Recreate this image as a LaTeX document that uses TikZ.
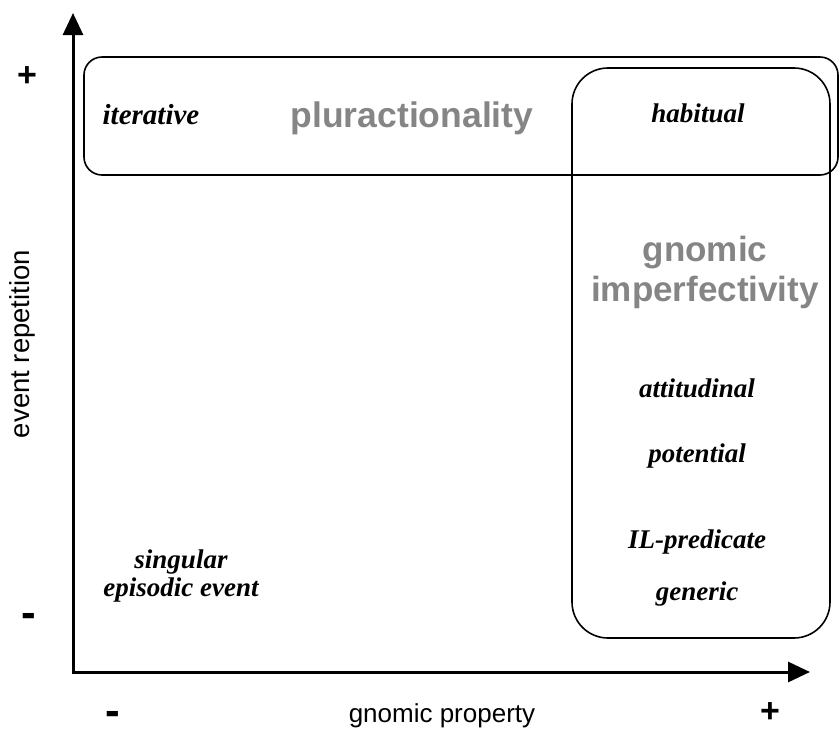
\documentclass[tikz,border=0pt]{standalone}
\usepackage{fontspec}
\setmainfont{Liberation Serif}
\setsansfont{Liberation Sans}
\usetikzlibrary{arrows.meta}
\definecolor{labgray}{HTML}{858585}
\begin{document}
\begin{tikzpicture}[x=1pt,y=-1pt,
  axisline/.style={line width=3pt,-{Triangle[length=22pt,width=20pt]}},
  regionbox/.style={draw,line width=1.6pt,inner sep=0pt},
  ital/.style={font=\fontsize{27}{30}\selectfont\itshape\bfseries, inner sep=0pt},
  big/.style={font=\fontsize{35}{40}\selectfont\sffamily\bfseries, text=labgray, inner sep=0pt, align=center},
  pm/.style={font=\fontsize{34}{34}\selectfont\sffamily\bfseries, inner sep=0pt},
  mn/.style={font=\fontsize{44}{44}\selectfont\sffamily\bfseries, inner sep=0pt, text height=19pt, text depth=-13pt},
  axlab/.style={font=\fontsize{26}{28}\selectfont\sffamily, inner sep=0pt}]
\useasboundingbox (0,0) rectangle (839,729);
% boxes
\node[regionbox, rounded corners=18pt, minimum width=754pt, minimum height=118pt] (plurbox) at (461,116) {};
\node[regionbox, rounded corners=36pt, minimum width=258pt, minimum height=570pt] (gnombox) at (701,353) {};
% axes
\coordinate (O) at (73,672);
\coordinate (ytip) at (73,13);
\coordinate (xtip) at (810,672);
\draw[axisline] ([yshift=-1.5pt]O) -- (ytip);
\draw[axisline] ([xshift=-1.5pt]O) -- (xtip);
% axis labels
\node[pm] (yplus) at (27,77) {+};
\node[mn] (yminus) at (29,618) {-};
\node[mn] (xminus) at (113,716) {-};
\node[pm] (xplus) at (770,713) {+};
\node[axlab] (xlab) at (442,716) {gnomic property};
\node[font=\fontsize{27.5}{29}\selectfont\sffamily, inner sep=0pt, rotate=90] (ylab) at (22,344) {event repetition};
% texts
\node[font=\fontsize{29}{30}\selectfont\itshape\bfseries, inner sep=0pt] (iter) at (151,115) {iterative};
\node[big, font=\fontsize{35.5}{36}\selectfont\sffamily\bfseries] (plur) at (412,118) {pluractionality};
\node[ital] (hab) at (698,113) {habitual};
\node[big] (gnom) at (705,272) {gnomic\\imperfectivity};
\node[ital] (att) at (697,388) {attitudinal};
\node[ital] (pot) at (697,456) {potential};
\node[ital] (ilp) at (697,542) {IL-predicate};
\node[ital] (gen) at (697,594) {generic};
\node[ital, align=center] (sing) at (181,576) {singular\\[-2pt]episodic event};
\end{tikzpicture}
\end{document}
